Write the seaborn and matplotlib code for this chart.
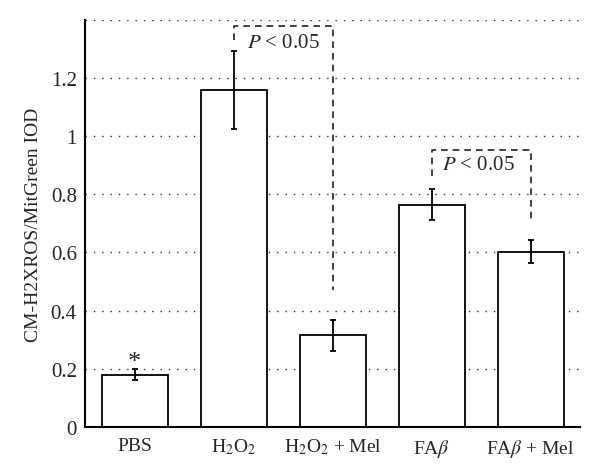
import numpy as np
import pandas as pd
import seaborn as sns
import matplotlib.pyplot as plt

# values
groups = ["PBS", r"H$_2$O$_2$", r"H$_2$O$_2$ + Mel", r"FA$\beta$", r"FA$\beta$ + Mel"]
means = [0.18, 1.16, 0.315, 0.765, 0.603]
errors = [0.02, 0.135, 0.053, 0.053, 0.04]

sns.set_style("white")
plt.rcParams["font.family"] = ["Liberation Serif", "DejaVu Serif"]
plt.rcParams["mathtext.fontset"] = "stix"

df = pd.DataFrame({"group": groups, "value": means})

fig = plt.figure(figsize=(6, 4.77), dpi=100)
ax = fig.add_axes([0.142, 0.103, 0.825, 0.853])

# dotted grid behind the bars
for yv in np.arange(0.2, 1.41, 0.2):
    ax.axhline(yv, color="#333333", linestyle=(0, (1, 5)), linewidth=1.0, zorder=0)

sns.barplot(data=df, x="group", y="value", order=groups, color="white",
            edgecolor="black", linewidth=1.3, width=0.667, errorbar=None,
            saturation=1, ax=ax, zorder=2)
for p in ax.patches:
    p.set_facecolor("white")

x = np.arange(len(groups))
ax.errorbar(x, means, yerr=errors, fmt="none", ecolor="black",
            elinewidth=1.3, capsize=2.2, capthick=1.3, zorder=3)

ax.set_xlim(-0.5, 4.5)
ax.set_ylim(0, 1.4)
ax.set_yticks([0, 0.2, 0.4, 0.6, 0.8, 1.0, 1.2])
ax.set_yticklabels(["0", "0.2", "0.4", "0.6", "0.8", "1", "1.2"], fontsize=15)
ax.set_xticks(x)
ax.set_xticklabels(groups, fontsize=14)
ax.tick_params(axis="x", which="major", length=0, pad=7)
ax.set_xticks(np.arange(0.5, 4.6, 1.0), minor=True)
ax.tick_params(axis="x", which="minor", length=4, width=1.2, direction="out")
ax.tick_params(axis="y", which="major", length=3, width=1.2, direction="out", pad=3)
ax.set_xlabel("")
ax.set_ylabel("CM-H2XROS/MitGreen IOD", fontsize=14, labelpad=6)

sns.despine(ax=ax)
for s in ["left", "bottom"]:
    ax.spines[s].set_linewidth(1.5)
    ax.spines[s].set_color("black")

# significance brackets
dash = (0, (4, 3))
ax.plot([1, 1, 2, 2], [1.33, 1.378, 1.378, 0.47], color="#222222",
        linestyle=dash, linewidth=1.2, zorder=4)
ax.text(1.5, 1.322, r"$P$ < 0.05", ha="center", va="center", fontsize=15)
ax.plot([3, 3, 4, 4], [0.862, 0.952, 0.952, 0.70], color="#222222",
        linestyle=dash, linewidth=1.2, zorder=4)
ax.text(3.47, 0.902, r"$P$ < 0.05", ha="center", va="center", fontsize=15)

# asterisk over PBS
ax.text(0, 0.222, "*", ha="center", va="center", fontsize=19)

fig.savefig("out.png", dpi=100)
